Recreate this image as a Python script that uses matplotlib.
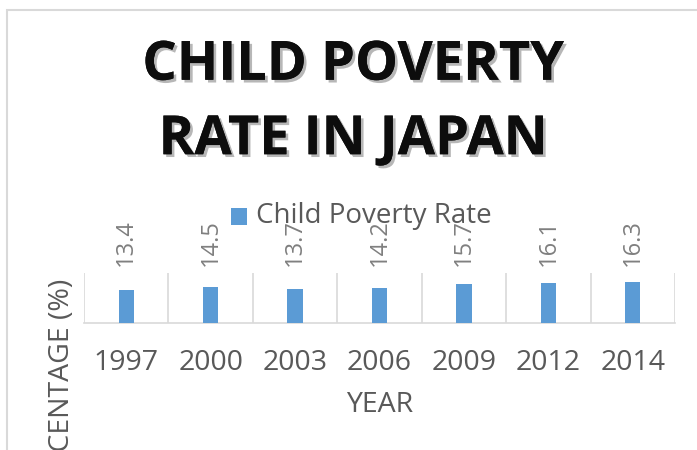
import matplotlib.pyplot as plt
import matplotlib.patheffects as pe
from matplotlib.patches import Rectangle

# Data
years = ["1997", "2000", "2003", "2006", "2009", "2012", "2014"]
rates = [13.4, 14.5, 13.7, 14.2, 15.7, 16.1, 16.3]

BAR_COLOR = "#5B9BD5"
TEXT_COLOR = "#595959"
GRID_COLOR = "#D9D9D9"

fig = plt.figure(figsize=(6.97, 4.5), dpi=100)
W, H = 697, 450

# chart area border (cropped at right/bottom)
fig.patches.append(Rectangle((7 / W, -0.2), 1.2, (H - 10) / H + 0.2,
                             transform=fig.transFigure, fill=False,
                             edgecolor=GRID_COLOR, linewidth=1.5))

# plot area: x 84..675, y 273..323 (pixels from top)
ax = fig.add_axes([84 / W, 1 - 323 / H, (675 - 84) / W, 50 / H])
x = range(len(years))
ax.bar(x, rates, width=0.18, color=BAR_COLOR, zorder=3)
ax.set_xlim(-0.5, len(years) - 0.5)
ax.set_ylim(0, 20)
ax.set_yticks([])
ax.set_xticks(list(x))
ax.set_xticklabels(years, fontsize=20.5, color=TEXT_COLOR, fontfamily="Open Sans")
ax.tick_params(axis="x", length=0, pad=19)
for xb in [i - 0.5 for i in range(len(years) + 1)]:
    ax.axvline(xb, color=GRID_COLOR, linewidth=1.2, zorder=1)
for side in ["top", "right", "left"]:
    ax.spines[side].set_visible(False)
ax.spines["bottom"].set_color(GRID_COLOR)
ax.spines["bottom"].set_linewidth(1.2)

# data labels above the plot area, rotated
for i, v in enumerate(rates):
    ax.annotate(f"{v}", xy=(i, 20), xytext=(0, 5), textcoords="offset points",
                rotation=90, ha="center", va="bottom", fontsize=17,
                color="#7F7F7F", fontfamily="Open Sans", annotation_clip=False)

ax.set_xlabel("YEAR", fontsize=20.5, color=TEXT_COLOR, fontfamily="Open Sans", labelpad=10)

# y label, cut off by the figure bottom like the original
fig.text(62 / W, 1 - 390 / H, "PERCENTAGE (%)", rotation=90, ha="center", va="center",
         fontsize=20.5, color=TEXT_COLOR, fontfamily="Open Sans")

# legend
fig.patches.append(Rectangle((231 / W, 1 - 225 / H), 16 / W, 17 / H,
                             transform=fig.transFigure, facecolor=BAR_COLOR, edgecolor="none"))
fig.text(256 / W, 1 - 216 / H, "Child Poverty Rate", ha="left", va="center",
         fontsize=20, color=TEXT_COLOR, fontfamily="Open Sans")

# title with shadow
fig.text(353 / W, 1 - 103 / H, "CHILD POVERTY\nRATE IN JAPAN", ha="center", va="center",
         fontsize=39, fontweight="bold", color="#0D0D0D", fontfamily="Open Sans",
         linespacing=1.5,
         path_effects=[pe.withSimplePatchShadow(offset=(2, -2), shadow_rgbFace="#888888",
                                                alpha=0.6), pe.Normal()])

fig.savefig("out.png", dpi=100)
